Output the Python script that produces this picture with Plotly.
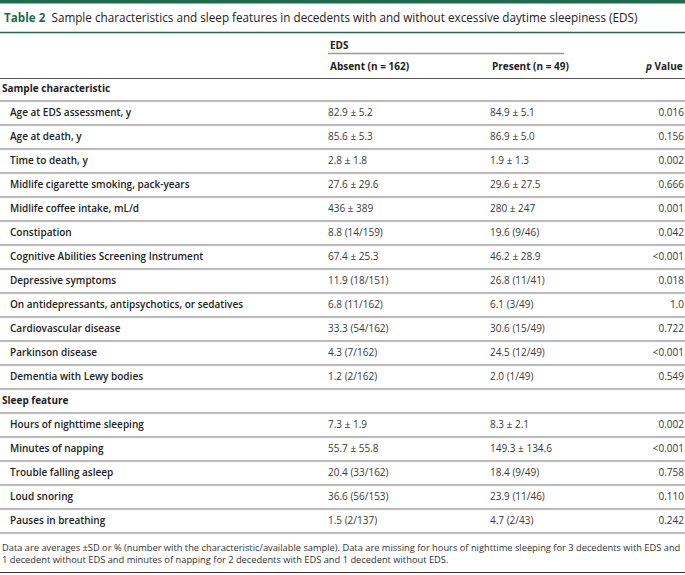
import plotly.graph_objects as go

W, H = 685, 575

sections = ['Sample characteristic', 'Sleep feature']

labels_sample = [
    'Age at EDS assessment, y',
    'Age at death, y',
    'Time to death, y',
    'Midlife cigarette smoking, pack-years',
    'Midlife coffee intake, mL/d',
    'Constipation',
    'Cognitive Abilities Screening Instrument',
    'Depressive symptoms',
    'On antidepressants, antipsychotics, or sedatives',
    'Cardiovascular disease',
    'Parkinson disease',
    'Dementia with Lewy bodies',
]
absent_sample = ['82.9 ± 5.2', '85.6 ± 5.3', '2.8 ± 1.8', '27.6 ± 29.6', '436 ± 389',
                 '8.8 (14/159)', '67.4 ± 25.3', '11.9 (18/151)', '6.8 (11/162)',
                 '33.3 (54/162)', '4.3 (7/162)', '1.2 (2/162)']
present_sample = ['84.9 ± 5.1', '86.9 ± 5.0', '1.9 ± 1.3', '29.6 ± 27.5', '280 ± 247',
                  '19.6 (9/46)', '46.2 ± 28.9', '26.8 (11/41)', '6.1 (3/49)',
                  '30.6 (15/49)', '24.5 (12/49)', '2.0 (1/49)']
p_sample = ['0.016', '0.156', '0.002', '0.666', '0.001', '0.042', '&lt;0.001',
            '0.018', '1.0', '0.722', '&lt;0.001', '0.549']

labels_sleep = [
    'Hours of nighttime sleeping',
    'Minutes of napping',
    'Trouble falling asleep',
    'Loud snoring',
    'Pauses in breathing',
]
absent_sleep = ['7.3 ± 1.9', '55.7 ± 55.8', '20.4 (33/162)', '36.6 (56/153)', '1.5 (2/137)']
present_sleep = ['8.3 ± 2.1', '149.3 ± 134.6', '18.4 (9/49)', '23.9 (11/46)', '4.7 (2/43)']
p_sleep = ['0.002', '&lt;0.001', '0.758', '0.110', '0.242']

col_headers = ['Absent (n = 162)', 'Present (n = 49)']

title_num = 'Table 2'
title_text = 'Sample characteristics and sleep features in decedents with and without excessive daytime sleepiness (EDS)'
footnote = ('Data are averages ±SD or % (number with the characteristic/available sample). '
            'Data are missing for hours of nighttime sleeping for 3 decedents with EDS and<br>'
            '1 decedent without EDS and minutes of napping for 2 decedents with EDS and 1 decedent without EDS.')

GREEN = '#1f6b4e'
TXT = '#222222'
VAL = '#3a3a3a'
FONT = 'Open Sans'

row_lab, row_abs, row_pre, row_p = [], [], [], []
sec_y, item_y = [], []
k = -1
for sec, labs, a, p_, pv in [(sections[0], labels_sample, absent_sample, present_sample, p_sample),
                              (sections[1], labels_sleep, absent_sleep, present_sleep, p_sleep)]:
    sec_y.append(k)
    k += 1
    for i in range(len(labs)):
        row_lab.append(labs[i]); row_abs.append(a[i]); row_pre.append(p_[i]); row_p.append(pv[i])
        item_y.append(k)
        k += 1
last_row = k - 1


def py(p):
    # pixel row of the page -> row units (row k is centred on 113 + 24k px)
    return (p - 113) / 24.0


fig = go.Figure()

fig.add_trace(go.Scatter(x=[2] * len(sections), y=sec_y, mode='text',
                         text=['<b>%s</b>' % s for s in sections], textposition='middle right',
                         textfont=dict(family=FONT, size=10, color=TXT)))
fig.add_trace(go.Scatter(x=[10] * len(row_lab), y=item_y, mode='text', text=row_lab,
                         textposition='middle right',
                         textfont=dict(family=FONT, size=10, color=TXT, weight=600)))
fig.add_trace(go.Scatter(x=[328] * len(row_abs), y=item_y, mode='text', text=row_abs,
                         textposition='middle right',
                         textfont=dict(family=FONT, size=10, color=VAL)))
fig.add_trace(go.Scatter(x=[490] * len(row_pre), y=item_y, mode='text', text=row_pre,
                         textposition='middle right',
                         textfont=dict(family=FONT, size=10, color=VAL)))
fig.add_trace(go.Scatter(x=[684] * len(row_p), y=item_y, mode='text', text=row_p,
                         textposition='middle left',
                         textfont=dict(family=FONT, size=10, color=VAL)))

shapes = []
shapes.append(dict(type='rect', xref='x', yref='y', x0=0, x1=W, y0=py(0), y1=py(3.5),
                   fillcolor=GREEN, line_width=0))
shapes.append(dict(type='line', xref='x', yref='y', x0=0, x1=W, y0=py(32.5), y1=py(32.5),
                   line=dict(color=GREEN, width=1.5)))
shapes.append(dict(type='line', xref='x', yref='y', x0=328, x1=564, y0=py(53.5), y1=py(53.5),
                   line=dict(color='#999999', width=1.5)))
shapes.append(dict(type='line', xref='x', yref='y', x0=0, x1=W, y0=py(78.5), y1=py(78.5),
                   line=dict(color='#555555', width=1)))
for r in range(-1, last_row + 1):
    shapes.append(dict(type='line', xref='x', yref='y', x0=0, x1=W, y0=r + 0.5, y1=r + 0.5,
                       line=dict(color='#777777', width=1)))
shapes.append(dict(type='line', xref='x', yref='y', x0=0, x1=W, y0=py(572.5), y1=py(572.5),
                   line=dict(color='#333333', width=1.2)))

annotations = [
    dict(x=2, y=py(17), xref='x', yref='y', xanchor='left', yanchor='middle', showarrow=False,
         text='<span style="color:%s"><b>%s</b></span>&nbsp; %s' % (GREEN, title_num, title_text),
         font=dict(family=FONT, size=11.7, color=TXT)),
    dict(x=328, y=py(45), xref='x', yref='y', xanchor='left', yanchor='middle', showarrow=False,
         text='<b>EDS</b>', font=dict(family=FONT, size=10, color=TXT)),
    dict(x=328, y=py(66), xref='x', yref='y', xanchor='left', yanchor='middle', showarrow=False,
         text='<b>%s</b>' % col_headers[0], font=dict(family=FONT, size=10, color=TXT)),
    dict(x=490, y=py(66), xref='x', yref='y', xanchor='left', yanchor='middle', showarrow=False,
         text='<b>%s</b>' % col_headers[1], font=dict(family=FONT, size=10, color=TXT)),
    dict(x=685, y=py(66), xref='x', yref='y', xanchor='right', yanchor='middle', showarrow=False,
         text='<b><i>p</i> Value</b>', font=dict(family=FONT, size=10, color=TXT)),
    dict(x=0, y=py(553), xref='x', yref='y', xanchor='left', yanchor='middle', showarrow=False,
         align='left', text=footnote, font=dict(family=FONT, size=9.3, color='#333333')),
]

fig.update_layout(
    width=W, height=H,
    margin=dict(l=0, r=0, t=0, b=0),
    paper_bgcolor='white', plot_bgcolor='white',
    showlegend=False,
    xaxis=dict(range=[0, W], visible=False, fixedrange=True),
    yaxis=dict(range=[py(H), py(0)], visible=False, fixedrange=True),
    shapes=shapes,
    annotations=annotations,
)

fig.write_html("out.html", config={'displayModeBar': False},
               post_script="document.body.style.margin='0';")
